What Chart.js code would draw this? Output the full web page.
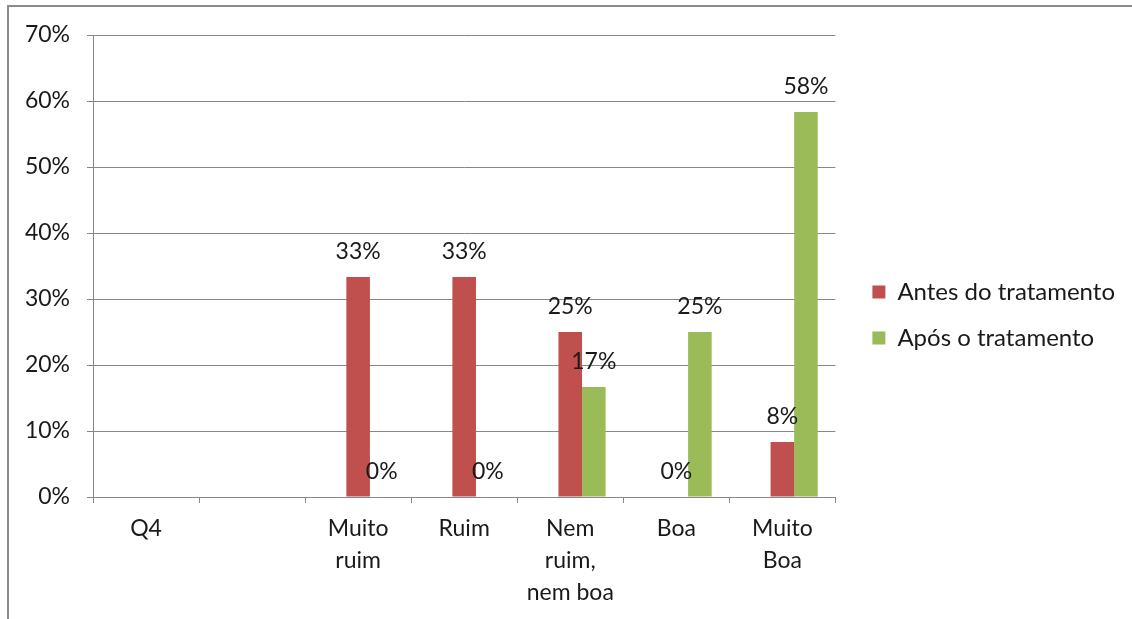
<!DOCTYPE html>
<html>
<head>
<meta charset="utf-8">
<script src="https://cdn.jsdelivr.net/npm/chart.js@4/dist/chart.umd.min.js"></script>
<style>
  html, body { margin: 0; padding: 0; background: #fff; }
  #frame { position: absolute; left: 7px; top: 5px; width: 1125px; height: 614px;
           border-top: 2px solid #8c8c8c; border-left: 2px solid #8c8c8c; box-sizing: border-box; }
  #wrap { position: absolute; left: 0; top: 0; width: 1132px; height: 619px; }
</style>
</head>
<body>
<div id="frame"></div>
<div id="wrap"><canvas id="chart" width="1132" height="619"></canvas></div>
<script>
// categories (x axis), first two columns are empty in the original sheet
var categories = ['Q4', '', ['Muito', 'ruim'], 'Ruim', ['Nem', 'ruim,', 'nem boa'], 'Boa', ['Muito', 'Boa']];
var seriesNames = ['Antes do tratamento', 'Após o tratamento'];
var antes = [null, null, 33.33, 33.33, 25, 0, 8.33];
var apos = [null, null, 0, 0, 16.67, 25, 58.33];
var blank = [null, null, null, null, null, null, null];
var yTicks = [0, 10, 20, 30, 40, 50, 60, 70];

var fontFamily = 'Lato, "Open Sans", sans-serif';
var textColor = '#1a1a1a';
var gridColor = '#878787';

// draws the % labels above every bar
var barLabels = {
    id: 'barLabels',
    afterDatasetsDraw: function(chart) {
        var ctx = chart.ctx;
        ctx.save();
        ctx.font = '23px ' + fontFamily;
        ctx.fillStyle = textColor;
        ctx.textAlign = 'center';
        ctx.textBaseline = 'middle';
        chart.data.datasets.forEach(function(ds, i) {
            if (!ds.label) return;
            var meta = chart.getDatasetMeta(i);
            meta.data.forEach(function(bar, j) {
                var v = ds.data[j];
                if (v == null) return;
                ctx.fillText(Math.round(v) + '%', bar.x, bar.y - 25);
            });
        });
        ctx.restore();
    }
};

var ctx = document.getElementById('chart').getContext('2d');
var chart = new Chart(ctx, {
    type: 'bar',
    data: {
        labels: categories,
        datasets: [{
            label: '',
            data: blank,
            backgroundColor: 'rgba(0,0,0,0)'
        }, {
            label: seriesNames[0],
            data: antes,
            backgroundColor: '#C0504D'
        }, {
            label: seriesNames[1],
            data: apos,
            backgroundColor: '#9BBB59'
        }]
    },
    options: {
        responsive: false,
        animation: false,
        layout: { padding: { top: 21, bottom: 10, left: 0, right: 7 } },
        datasets: {
            bar: { categoryPercentage: 0.667, barPercentage: 1.0 }
        },
        scales: {
            x: {
                grid: { display: true, offset: true, drawOnChartArea: false, drawTicks: true, tickLength: 6, color: gridColor },
                border: { display: true, color: gridColor },
                ticks: {
                    color: textColor,
                    font: { family: fontFamily, size: 23, lineHeight: 1.39 },
                    padding: 10,
                    maxRotation: 0,
                    autoSkip: false
                },
                afterFit: function(s) { s.height = 112; }
            },
            topGap: {
                type: 'category',
                position: 'top',
                display: true,
                grid: { display: false },
                border: { display: false },
                ticks: { display: false },
                afterFit: function(s) { s.height = 14; }
            },
            y: {
                min: 0,
                max: 70,
                afterBuildTicks: function(s) { s.ticks = yTicks.map(function(v) { return { value: v }; }); },
                grid: { color: gridColor, tickLength: 6 },
                border: { display: true, color: gridColor },
                ticks: {
                    color: textColor,
                    font: { family: fontFamily, size: 23 },
                    padding: 17,
                    callback: function(v) { return v + '%'; }
                },
                afterFit: function(s) { s.width = 93; }
            },
            gap: {
                position: 'right',
                display: true,
                grid: { display: false },
                border: { display: false },
                ticks: { display: false },
                afterFit: function(s) { s.width = 15; }
            }
        },
        plugins: {
            legend: {
                position: 'right',
                maxWidth: 400,
                labels: {
                    filter: function(item) { return item.text !== ''; },
                    boxWidth: 13,
                    boxHeight: 13,
                    padding: 22,
                    color: textColor,
                    font: { family: fontFamily, size: 24 }
                }
            },
            tooltip: { enabled: false }
        }
    },
    plugins: [barLabels]
});
</script>
</body>
</html>
